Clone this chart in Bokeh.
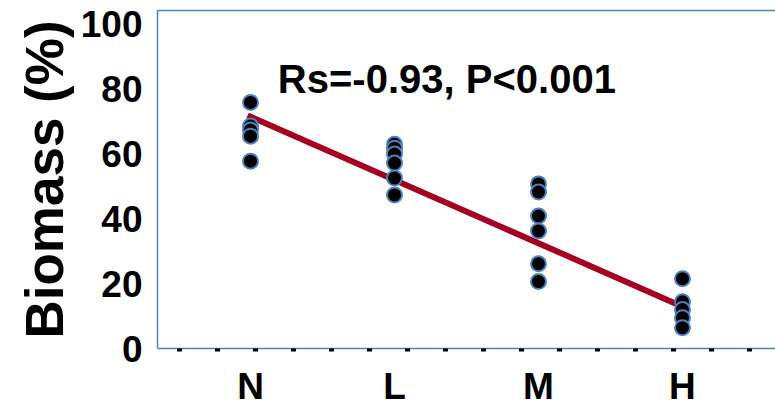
import numpy as np
from bokeh.plotting import figure
from bokeh.models import Range1d, LinearAxis, FixedTicker, Label, ColumnDataSource
from bokeh.embed import file_html
from bokeh.resources import INLINE

# ---- data ----
categories = ["N", "L", "M", "H"]
cat_pos = [1, 2, 3, 4]
n_vals = [75.8, 68.5, 67.3, 65.4, 57.7]
l_vals = [62.9, 61.7, 59.9, 57.1, 52.5, 47.3]
m_vals = [50.7, 48.2, 40.8, 36.2, 26.1, 20.6]
h_vals = [21.5, 14.4, 12.0, 9.5, 6.4]
fit_x = [0.98, 3.97]
fit_y = [71.8, 13.5]
y_ticks = [0, 20, 40, 60, 80, 100]
annotation = "Rs=-0.93, P<0.001"

xs, ys = [], []
for pos, vals in zip(cat_pos, [n_vals, l_vals, m_vals, h_vals]):
    xs += [pos] * len(vals)
    ys += vals
src = ColumnDataSource(dict(x=xs, y=ys))

FONT = "Liberation Sans"
BLUE = "#4f81bd"

p = figure(width=775, height=409, output_backend="svg", toolbar_location=None,
           x_range=Range1d(0.354, 4.646), y_range=Range1d(0, 104.1),
           x_axis_location=None, y_axis_location=None,
           min_border_left=157, min_border_right=0, min_border_top=10, min_border_bottom=60)
p.outline_line_color = None
p.grid.visible = False
p.background_fill_color = "white"
p.border_fill_color = "white"

# left axis
yax = LinearAxis(ticker=FixedTicker(ticks=y_ticks))
yax.axis_line_color = BLUE
yax.axis_line_width = 1.5
yax.major_tick_line_color = None
yax.minor_tick_line_color = None
yax.major_label_text_font = FONT
yax.major_label_text_font_style = "bold"
yax.major_label_text_font_size = "37px"
yax.major_label_text_color = "black"
yax.major_label_standoff = 9
yax.axis_label = "Biomass (%)"
yax.axis_label_text_font = FONT
yax.axis_label_text_font_style = "bold"
yax.axis_label_text_font_size = "53px"
yax.axis_label_text_color = "black"
yax.axis_label_standoff = 4
p.add_layout(yax, "left")

# top border as axis
tax = LinearAxis(ticker=FixedTicker(ticks=[]))
tax.axis_line_color = BLUE
tax.axis_line_width = 1.5
tax.major_tick_line_color = None
tax.minor_tick_line_color = None
tax.major_label_text_font_size = "0px"
p.add_layout(tax, "above")

# bottom axis
minor = list(np.arange(0.507, 4.646, 0.264))
xax = LinearAxis(ticker=FixedTicker(ticks=cat_pos, minor_ticks=minor))
xax.major_label_overrides = {pos: c for pos, c in zip(cat_pos, categories)}
xax.axis_line_color = BLUE
xax.axis_line_width = 1.5
xax.major_tick_line_color = None
xax.minor_tick_line_color = "black"
xax.minor_tick_line_width = 5
xax.minor_tick_in = 0
xax.minor_tick_out = 3
xax.major_label_text_font = FONT
xax.major_label_text_font_style = "bold"
xax.major_label_text_font_size = "37px"
xax.major_label_text_color = "black"
xax.major_label_standoff = 11
p.add_layout(xax, "below")

p.line(fit_x, fit_y, line_color="#a50021", line_width=6)
p.scatter("x", "y", source=src, size=15, fill_color="black",
          line_color=BLUE, line_width=2)

p.add_layout(Label(x=1.19, y=82.9, text=annotation, text_font=FONT,
                   text_font_style="bold", text_font_size="40px",
                   text_color="black", text_baseline="alphabetic"))

open("out.html", "w").write(file_html(p, INLINE))
